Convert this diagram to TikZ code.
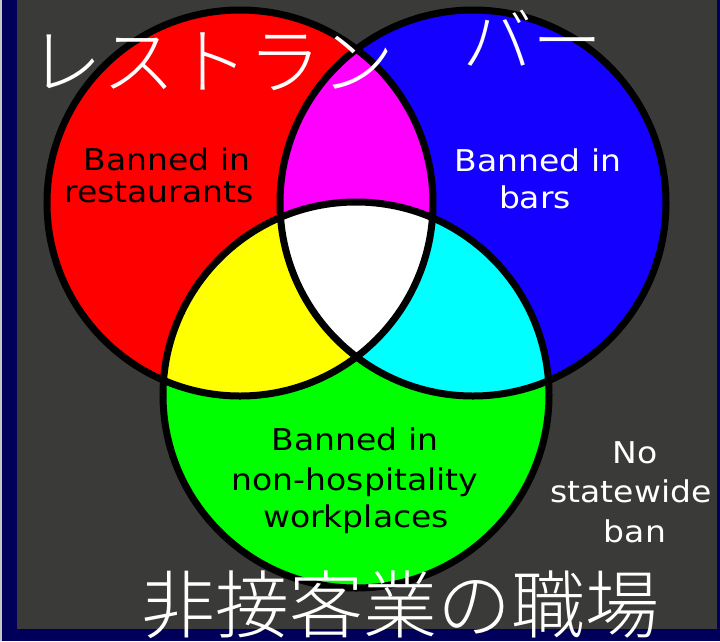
\documentclass[tikz,border=0pt]{standalone}
\usepackage{fontspec}
\newfontfamily\jpfont{Noto Sans CJK JP}[UprightFont=* Light]
\newfontfamily\pixfont[FakeStretch=1.1]{DejaVu Sans}
\definecolor{bggray}{RGB}{58,59,56}
\definecolor{navyframe}{RGB}{0,0,90}
\definecolor{edgeline}{RGB}{200,200,200}
\definecolor{cred}{RGB}{255,0,0}
\definecolor{cblue}{RGB}{20,0,255}
\definecolor{cgreen}{RGB}{0,255,0}
\definecolor{cmag}{RGB}{255,0,255}
\definecolor{cyel}{RGB}{255,255,0}
\definecolor{ccyan}{RGB}{0,255,255}
\tikzset{
  lab/.style={font=\pixfont\fontsize{30}{36}\selectfont, inner sep=0pt, anchor=base},
  lblack/.style={lab, text=black},
  lwhite/.style={lab, text=white},
  jp/.style={font=\jpfont\fontsize{70}{80}\selectfont, text=white, inner sep=0pt, anchor=base},
  outline/.style={draw=black, line width=7pt}
}
\begin{document}
\begin{tikzpicture}[x=1pt,y=-1pt]
\useasboundingbox (0,0) rectangle (720,641);
% frame and background
\fill[navyframe] (0,0) rectangle (720,641);
\fill[edgeline] (0,0) rectangle (2,641);
\fill[bggray] (17,0) rectangle (717,629);
% centres
\coordinate (cr) at (240,203);
\coordinate (cb) at (473,203);
\coordinate (cg) at (356,395);
% base fills
\fill[cred] (cr) circle (193);
\fill[cblue] (cb) circle (193);
\fill[cgreen] (cg) circle (193);
% intersections
\begin{scope}
  \clip (cr) circle (193);
  \fill[cmag] (cb) circle (193);
  \fill[cyel] (cg) circle (193);
\end{scope}
\begin{scope}
  \clip (cb) circle (193);
  \fill[ccyan] (cg) circle (193);
\end{scope}
\begin{scope}
  \clip (cr) circle (193);
  \clip (cb) circle (193);
  \fill[white] (cg) circle (193);
\end{scope}
% outlines
\draw[outline] (cr) circle (193);
\draw[outline] (cb) circle (193);
\draw[outline] (cg) circle (193);
% labels
\node[lblack] (r1) at (167,170) {Banned in};
\node[lblack] (r2) at (159,202) {restaurants};
\node[lwhite] (b1) at (538,171) {Banned in};
\node[lwhite] (b2) at (535,208) {bars};
\node[lblack] (g1) at (355,450) {Banned in};
\node[lblack] (g2) at (355,490) {non-hospitality};
\node[lblack] (g3) at (356,527) {workplaces};
\node[lwhite] (n1) at (635,463) {No};
\node[lwhite] (n2) at (631,502) {statewide};
\node[lwhite] (n3) at (635,542) {ban};
% Japanese titles
\node[jp, font=\jpfont\fontsize{73}{80}\selectfont] (jr) at (212,88) {レストラン};
\node[jp] (jb) at (532,66) {バー};
\node[jp, font=\jpfont\fontsize{74}{80}\selectfont] (jg) at (400,632) {非接客業の職場};
\end{tikzpicture}
\end{document}
